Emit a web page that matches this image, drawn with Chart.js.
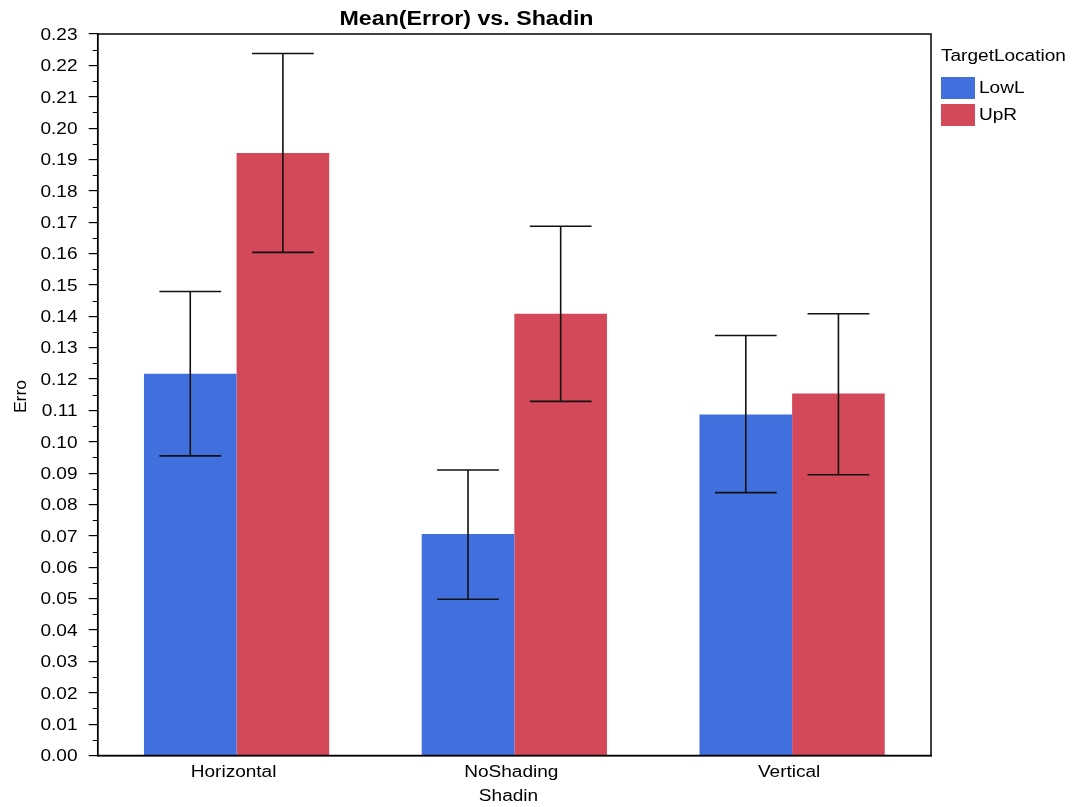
<!DOCTYPE html>
<html>
<head>
<meta charset="utf-8">
<script src="https://cdn.jsdelivr.net/npm/chart.js@4/dist/chart.umd.min.js"></script>
<style>
  html, body { margin: 0; padding: 0; background: #fff; }
  #wrap { width: 1076px; height: 807px; position: relative; }
</style>
</head>
<body>
<div id="wrap"><canvas id="c" width="1076" height="807"></canvas></div>
<script>
// Mean error per shading condition, split by target location
const categories = ['Horizontal', 'NoShading', 'Vertical'];
const seriesNames = ['LowL', 'UpR'];
const lowLMean = [0.1217, 0.0706, 0.1087];
const lowLUpper = [0.1479, 0.0910, 0.1339];
const lowLLower = [0.0955, 0.0498, 0.0838];
const upRMean = [0.1921, 0.1408, 0.1154];
const upRUpper = [0.2238, 0.1687, 0.1408];
const upRLower = [0.1604, 0.1129, 0.0895];
const yTicks = [0.00, 0.01, 0.02, 0.03, 0.04, 0.05, 0.06, 0.07, 0.08, 0.09, 0.10, 0.11,
                0.12, 0.13, 0.14, 0.15, 0.16, 0.17, 0.18, 0.19, 0.20, 0.21, 0.22, 0.23];

const BLUE = 'rgb(65,112,222)';
const RED = 'rgb(212,73,90)';
const FONT = '"Liberation Sans", Arial, Helvetica, sans-serif';
const WIDEN = 1.19; // horizontal stretch applied to all lettering

const intervals = [
  { upper: lowLUpper, lower: lowLLower },
  { upper: upRUpper, lower: upRLower }
];

// draws a string with a slightly widened face
function label(ctx, str, x, y, align, font, rotate) {
  ctx.save();
  ctx.translate(x, y);
  if (rotate) ctx.rotate(rotate);
  ctx.scale(rotate ? 1.1 : WIDEN, 1);
  ctx.font = font;
  ctx.textAlign = align;
  ctx.fillText(str, 0, 0);
  ctx.restore();
}

const decorations = {
  id: 'decorations',
  afterDatasetsDraw(chart) {
    const ctx = chart.ctx;
    const x = chart.scales.x;
    const y = chart.scales.y;
    const a = chart.chartArea;
    ctx.save();

    // error bars
    ctx.strokeStyle = '#111';
    ctx.lineWidth = 1.6;
    chart.data.datasets.forEach((ds, di) => {
      const meta = chart.getDatasetMeta(di);
      meta.data.forEach((bar, i) => {
        const cx = bar.x;
        const half = bar.width / 3;
        const yu = y.getPixelForValue(intervals[di].upper[i]);
        const yl = y.getPixelForValue(intervals[di].lower[i]);
        ctx.beginPath();
        ctx.moveTo(cx, yu); ctx.lineTo(cx, yl);
        ctx.moveTo(cx - half, yu); ctx.lineTo(cx + half, yu);
        ctx.moveTo(cx - half, yl); ctx.lineTo(cx + half, yl);
        ctx.stroke();
      });
    });

    // frame around plot
    ctx.strokeStyle = '#000';
    ctx.lineWidth = 1.5;
    ctx.strokeRect(a.left, a.top, a.right - a.left, a.bottom - a.top);

    // minor ticks on y
    ctx.lineWidth = 1.2;
    ctx.beginPath();
    for (let k = 0; k < yTicks.length - 1; k++) {
      const v = (yTicks[k] + yTicks[k + 1]) / 2;
      const py = Math.round(y.getPixelForValue(v)) + 0.5;
      ctx.moveTo(a.left - 5, py); ctx.lineTo(a.left, py);
    }
    ctx.stroke();

    ctx.fillStyle = '#000';
    ctx.textBaseline = 'alphabetic';
    const f16 = '16px ' + FONT;

    // y tick labels
    yTicks.forEach(v => {
      label(ctx, v.toFixed(2), 77.5, y.getPixelForValue(v) + 5.8, 'right', f16);
    });

    // x tick labels
    categories.forEach((c, i) => {
      label(ctx, c, x.getPixelForValue(i) - 3, 777, 'center', f16);
    });

    // title
    label(ctx, 'Mean(Error) vs. Shadin', 466.5, 25, 'center', 'bold 19.5px ' + FONT);

    // axis titles
    label(ctx, 'Shadin', 508.5, 801, 'center', f16);
    label(ctx, 'Erro', 25.5, 396.5, 'center', f16, -Math.PI / 2);

    // legend
    label(ctx, 'TargetLocation', 941, 61, 'left', f16);
    const colors = [BLUE, RED];
    seriesNames.forEach((name, i) => {
      const top = 77 + i * 27;
      ctx.fillStyle = colors[i];
      ctx.fillRect(941, top, 34, 22);
      ctx.fillStyle = '#000';
      label(ctx, name, 979, top + 15.5, 'left', f16);
    });
    ctx.restore();
  }
};

new Chart(document.getElementById('c'), {
  type: 'bar',
  data: {
    labels: categories,
    datasets: [
      { label: seriesNames[0], data: lowLMean, backgroundColor: BLUE,
        categoryPercentage: 0.667, barPercentage: 1.0 },
      { label: seriesNames[1], data: upRMean, backgroundColor: RED,
        categoryPercentage: 0.667, barPercentage: 1.0 }
    ]
  },
  options: {
    responsive: false,
    animation: false,
    layout: { padding: { left: 0, top: 34, right: 145, bottom: 0 } },
    plugins: {
      legend: { display: false },
      title: { display: false },
      tooltip: { enabled: false }
    },
    scales: {
      x: {
        grid: { display: false, drawTicks: false },
        border: { display: true, color: '#000', width: 1.5 },
        ticks: { display: false },
        afterFit(s) { s.height = 51.5; }
      },
      y: {
        min: 0,
        max: 0.23,
        afterBuildTicks(s) { s.ticks = yTicks.map(v => ({ value: v })); },
        grid: { drawOnChartArea: false, drawTicks: true, tickLength: 9, color: '#000', lineWidth: 1.2 },
        border: { display: true, color: '#000', width: 1.5 },
        ticks: { display: false },
        afterFit(s) { s.width = 97.7; }
      }
    }
  },
  plugins: [decorations]
});
</script>
</body>
</html>
